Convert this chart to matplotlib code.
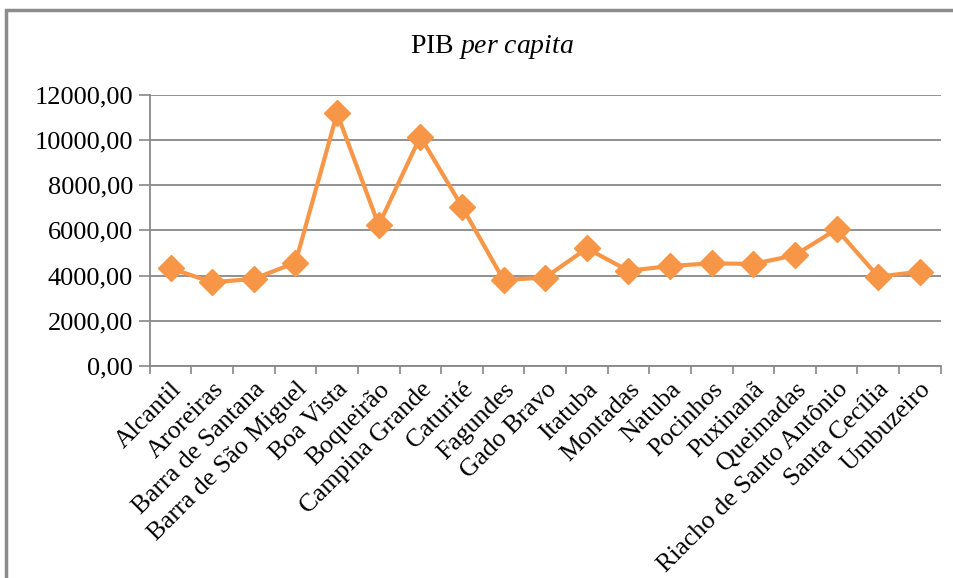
import matplotlib
matplotlib.use("Agg")
import matplotlib.pyplot as plt
from matplotlib.patches import Rectangle

plt.rcParams['font.family'] = ['Liberation Serif', 'DejaVu Serif']
plt.rcParams['mathtext.fontset'] = 'custom'
plt.rcParams['mathtext.rm'] = 'Liberation Serif'
plt.rcParams['mathtext.it'] = 'Liberation Serif:italic'

municipios = ["Alcantil", "Aroreiras", "Barra de Santana", "Barra de São Miguel",
              "Boa Vista", "Boqueirão", "Campina Grande", "Caturité", "Fagundes",
              "Gado Bravo", "Itatuba", "Montadas", "Natuba", "Pocinhos", "Puxinanã",
              "Queimadas", "Riacho de Santo Antônio", "Santa Cecília", "Umbuzeiro"]
pib = [4320, 3700, 3850, 4570, 11180, 6230, 10150, 7050, 3800,
       3910, 5200, 4210, 4420, 4540, 4510, 4900, 6050, 3950, 4170]
yticks = [0, 2000, 4000, 6000, 8000, 10000, 12000]
ytick_labels = ["0,00", "2000,00", "4000,00", "6000,00", "8000,00", "10000,00", "12000,00"]

fig = plt.figure(figsize=(9.54, 5.78), dpi=100)
ax = fig.add_axes([0.157, 0.367, 0.829, 0.469])

x = list(range(len(municipios)))
ax.plot(x, pib, color='#F79646', lw=3, marker='D', markersize=13, zorder=3)

ax.set_xlim(-0.5, len(municipios) - 0.5)
ax.set_ylim(0, 12000)
ax.set_yticks(yticks)
ax.set_yticklabels(ytick_labels, fontsize=19)
ax.set_xticks([i - 0.5 for i in range(len(municipios) + 1)])
ax.set_xticklabels([])
ax.set_xticks(x, minor=True)
ax.set_xticklabels(municipios, minor=True, rotation=45, ha='right', va='top',
                   rotation_mode='anchor', fontsize=18.5)
ax.tick_params(axis='x', which='minor', length=0, pad=9)
ax.tick_params(axis='x', which='major', length=6, color='#888888', width=1.2)
ax.tick_params(axis='y', length=8, color='#888888', width=1.2, pad=4)

ax.grid(axis='y', color='#888888', lw=1.3)
ax.set_axisbelow(True)
for s in ['top', 'right']:
    ax.spines[s].set_visible(False)
for s in ['left', 'bottom']:
    ax.spines[s].set_color('#888888')
    ax.spines[s].set_linewidth(1.3)

fig.text(0.516, 0.918, r"PIB $\mathit{per\ capita}$", ha='center', va='center', fontsize=20)

fig.add_artist(Rectangle((0.006, -0.05), 1.1, 1.032, transform=fig.transFigure,
                         fill=False, ec='#8c8c8c', lw=2.5))

fig.savefig("out.png", dpi=100)
